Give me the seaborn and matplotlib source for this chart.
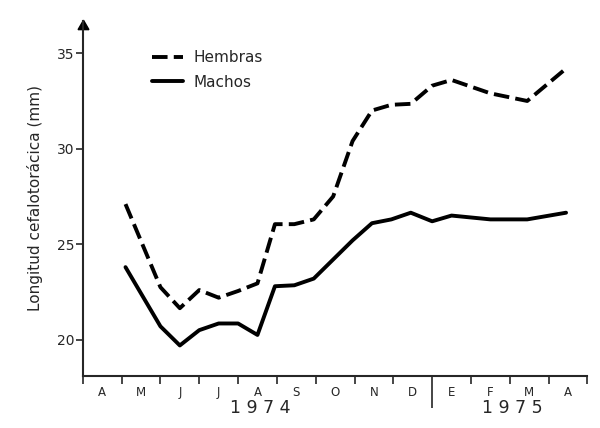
import pandas as pd
import seaborn as sns
import matplotlib.pyplot as plt

# sampling positions in months since 1 April 1974
months = [1.1, 2.0, 2.5, 3.0, 3.5, 4.0, 4.5, 4.95, 5.45, 5.95, 6.45, 6.95,
          7.45, 7.95, 8.45, 9.0, 9.5, 10.5, 11.45, 12.45]
hembras = [27.1, 22.75, 21.65, 22.6, 22.2, 22.55, 22.95, 26.05, 26.05, 26.3, 27.5, 30.4,
           32.0, 32.3, 32.35, 33.3, 33.6, 32.9, 32.5, 34.2]
machos = [23.8, 20.7, 19.7, 20.5, 20.85, 20.85, 20.25, 22.8, 22.85, 23.2, 24.2, 25.2,
          26.1, 26.3, 26.65, 26.2, 26.5, 26.3, 26.3, 26.65]
month_labels = ['A', 'M', 'J', 'J', 'A', 'S', 'O', 'N', 'D', 'E', 'F', 'M', 'A']
years = ['1 9 7 4', '1 9 7 5']
year_pos = [4.57, 11.06]

df = pd.concat([
    pd.DataFrame({'mes': months, 'long': hembras, 'sexo': 'Hembras'}),
    pd.DataFrame({'mes': months, 'long': machos, 'sexo': 'Machos'}),
])

sns.set_style('ticks')
plt.rcParams['font.family'] = ['DejaVu Sans']

fig = plt.figure(figsize=(6, 4.28), dpi=100)
ax = fig.add_axes([0.138, 0.1215, 0.841, 0.83])

sns.lineplot(data=df, x='mes', y='long', style='sexo', ax=ax, color='black',
             linewidth=2.8, dashes={'Hembras': (4, 1.6), 'Machos': ''},
             style_order=['Hembras', 'Machos'])

ax.set_xlim(0, 13)
ax.set_ylim(18.1, 36.7)
sns.despine(ax=ax)
ax.spines['left'].set_linewidth(1.5)
ax.spines['bottom'].set_linewidth(1.5)
ax.plot(0, 0.985, marker=(3, 0, 0), color='black', markersize=9, transform=ax.transAxes,
        clip_on=False)

ax.set_yticks([20, 25, 30, 35])
ax.tick_params(axis='y', length=5, width=1.2, labelsize=10, pad=1)

ax.set_xticks(range(14))
ax.set_xticklabels([])
ax.set_xticks([i + 0.5 for i in range(13)], minor=True)
ax.set_xticklabels(month_labels, minor=True, fontsize=8.5)
ax.tick_params(axis='x', which='major', length=6, width=1.2)
ax.tick_params(axis='x', which='minor', length=0, pad=7)
ax.xaxis.get_major_ticks()[9].tick1line.set_markersize(23)

for pos, label in zip(year_pos, years):
    ax.text(pos, -0.064, label, transform=ax.get_xaxis_transform(), ha='center',
            va='top', fontsize=12.5)

ax.set_xlabel('')
ax.set_ylabel('Longitud cefalotorácica (mm)', fontsize=11, labelpad=10)

leg = ax.legend(loc='upper left', bbox_to_anchor=(0.11, 0.955), frameon=False,
                handlelength=2.0, fontsize=11, labelspacing=0.6, handletextpad=0.7)
for line in leg.get_lines():
    line.set_linewidth(2.8)

fig.savefig('out.png', dpi=100)
